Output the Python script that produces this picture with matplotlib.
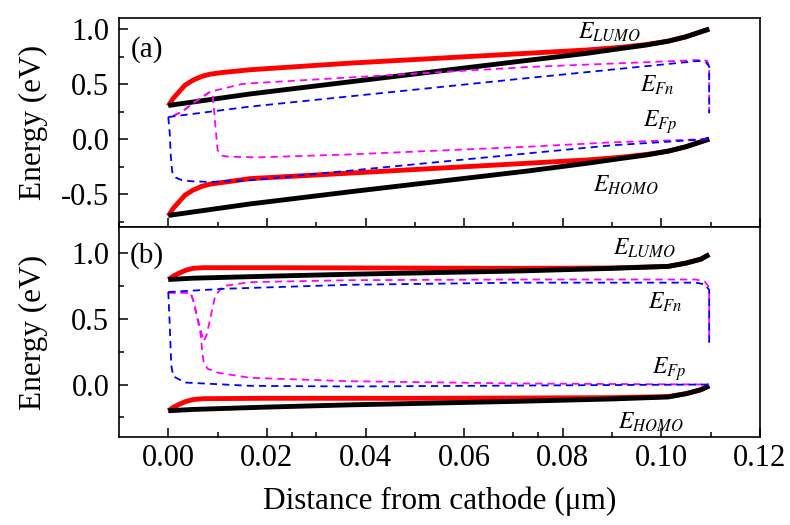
import numpy as np
import matplotlib
matplotlib.use('Agg')
from matplotlib import pyplot as plt
from matplotlib.ticker import MultipleLocator, FixedLocator, FormatStrFormatter

plt.rcParams['font.family'] = ['Liberation Serif', 'DejaVu Serif']
plt.rcParams['mathtext.fontset'] = 'stix'

# ---------- panel (a) ----------
# band edges (solid lines)
xa_black = [0, 0.0166, 0.0368, 0.073, 0.085, 0.0913, 0.097, 0.1014, 0.105, 0.1097]
lumo_a_black = [0.305, 0.41, 0.52, 0.716, 0.78, 0.82, 0.855, 0.89, 0.93, 1.0]
homo_a_black = [-0.695, -0.59, -0.48, -0.29, -0.22, -0.18, -0.145, -0.11, -0.07, 0.0]

xa_red = [0, 0.001, 0.002, 0.0034, 0.005, 0.0068, 0.0085, 0.011, 0.0166, 0.0368,
          0.073, 0.085, 0.092, 0.097, 0.1014, 0.105, 0.1097]
lumo_a_red = [0.30, 0.37, 0.42, 0.49, 0.535, 0.57, 0.59, 0.605, 0.63, 0.69,
              0.78, 0.81, 0.835, 0.86, 0.89, 0.93, 1.0]
homo_a_red = [-0.70, -0.63, -0.58, -0.51, -0.465, -0.43, -0.41, -0.395, -0.36, -0.31,
              -0.22, -0.19, -0.165, -0.14, -0.11, -0.07, 0.0]

# quasi fermi levels (dashed)
xa_fn_blue = [0, 0.0166, 0.073, 0.1075, 0.1090, 0.1097, 0.1097]
fn_a_blue = [0.20, 0.295, 0.555, 0.71, 0.70, 0.66, 0.235]
xa_fp_blue = [0, 0.0003, 0.0005, 0.0008, 0.0015, 0.0028, 0.005, 0.0085, 0.0166, 0.073, 0.09, 0.1097]
fp_a_blue = [0.20, 0.05, -0.15, -0.30, -0.35, -0.375, -0.385, -0.39, -0.375, -0.13, -0.057, 0.0]

xa_fn_mag = [0.001, 0.0028, 0.0055, 0.0085, 0.0149, 0.0179, 0.073, 0.1085, 0.1093, 0.1097, 0.1097]
fn_a_mag = [0.21, 0.25, 0.34, 0.43, 0.50, 0.51, 0.655, 0.72, 0.71, 0.66, 0.235]
xa_fp_mag = [0.001, 0.0028, 0.0055, 0.0085, 0.009, 0.0095, 0.010, 0.0108, 0.012, 0.0179,
             0.0368, 0.073, 0.09, 0.1097]
fp_a_mag = [0.21, 0.25, 0.34, 0.43, 0.40, 0.15, -0.10, -0.15, -0.16, -0.167,
            -0.14, -0.07, -0.03, 0.0]

# ---------- panel (b) ----------
xb_black = [0, 0.005, 0.02, 0.0368, 0.071, 0.09, 0.1014, 0.105, 0.108, 0.1097]
lumo_b_black = [0.80, 0.81, 0.825, 0.84, 0.865, 0.885, 0.90, 0.925, 0.955, 0.99]
homo_b_black = [-0.20, -0.19, -0.172, -0.155, -0.128, -0.11, -0.095, -0.07, -0.04, -0.01]

xb_red = [0, 0.001, 0.002, 0.0035, 0.005, 0.007, 0.02, 0.05, 0.071, 0.09, 0.1014, 0.105, 0.108, 0.1097]
lumo_b_red = [0.80, 0.825, 0.845, 0.87, 0.885, 0.89, 0.89, 0.887, 0.885, 0.888, 0.90, 0.925, 0.955, 0.99]
homo_b_red = [-0.20, -0.175, -0.155, -0.13, -0.115, -0.108, -0.105, -0.105, -0.103, -0.10, -0.092, -0.07, -0.04, -0.01]

xb_fn_blue = [0, 0.0118, 0.0368, 0.071, 0.107, 0.1088, 0.1097, 0.1097]
fn_b_blue = [0.705, 0.73, 0.76, 0.776, 0.776, 0.763, 0.72, 0.32]
xb_fp_blue = [0, 0.0003, 0.0006, 0.001, 0.0034, 0.0166, 0.0368, 0.071, 0.1097]
fp_b_blue = [0.705, 0.45, 0.15, 0.063, 0.015, -0.01, -0.015, -0.008, 0.0]

xb_fn_mag = [0, 0.0045, 0.0051, 0.0065, 0.0072, 0.0078, 0.0095, 0.0111, 0.0166, 0.0368,
             0.071, 0.107, 0.1088, 0.1097, 0.1097]
fn_b_mag = [0.70, 0.70, 0.636, 0.42, 0.33, 0.38, 0.675, 0.75, 0.78, 0.795,
            0.80, 0.80, 0.785, 0.74, 0.32]
xb_fp_mag = [0, 0.0045, 0.0051, 0.0065, 0.0069, 0.0072, 0.008, 0.0102, 0.0166, 0.0368, 0.071, 0.1097]
fp_b_mag = [0.70, 0.70, 0.636, 0.40, 0.25, 0.16, 0.12, 0.089, 0.051, 0.025, 0.008, 0.0]

# label positions (data coords) for each panel
labels_a = [(r'$E_{LUMO}$', 0.0895, 0.97), (r'$E_{Fn}$', 0.0992, 0.485),
            (r'$E_{Fp}$', 0.0998, 0.15), (r'$E_{HOMO}$', 0.0927, -0.42)]
labels_b = [(r'$E_{LUMO}$', 0.0966, 1.04), (r'$E_{Fn}$', 0.1008, 0.625),
            (r'$E_{Fp}$', 0.1016, 0.115), (r'$E_{HOMO}$', 0.0978, -0.29)]

# bottom axis has a couple of odd extra minor ticks
minor_b = [0.01, 0.025, 0.03, 0.05, 0.07, 0.075, 0.09, 0.11]

dash = (0, (4.0, 2.8))

fig = plt.figure(figsize=(7.9, 5.25), dpi=100)
ax1 = fig.add_axes([0.1506, 0.5676, 0.8114, 0.398])
ax2 = fig.add_axes([0.1506, 0.1676, 0.8114, 0.400])


def draw_panel(ax, xr, lr, hr, xk, lk, hk, xfb, fnb, xpb, fpb, xfm, fnm, xpm, fpm):
    ax.plot(xr, lr, color='#ff0000', lw=3.5, solid_capstyle='butt')
    ax.plot(xr, hr, color='#ff0000', lw=3.5, solid_capstyle='butt')
    ax.plot(xk, lk, color='black', lw=3.5, solid_capstyle='butt')
    ax.plot(xk, hk, color='black', lw=3.5, solid_capstyle='butt')
    ax.plot(xfm, fnm, color='#ff00ff', lw=1.3, ls=dash)
    ax.plot(xpm, fpm, color='#ff00ff', lw=1.3, ls=dash)
    ax.plot(xfb, fnb, color='#0000ff', lw=1.3, ls=dash)
    ax.plot(xpb, fpb, color='#0000ff', lw=1.3, ls=dash)


draw_panel(ax1, xa_red, lumo_a_red, homo_a_red, xa_black, lumo_a_black, homo_a_black,
           xa_fn_blue, fn_a_blue, xa_fp_blue, fp_a_blue, xa_fn_mag, fn_a_mag, xa_fp_mag, fp_a_mag)
draw_panel(ax2, xb_red, lumo_b_red, homo_b_red, xb_black, lumo_b_black, homo_b_black,
           xb_fn_blue, fn_b_blue, xb_fp_blue, fp_b_blue, xb_fn_mag, fn_b_mag, xb_fp_mag, fp_b_mag)

for txt, x, y in labels_a:
    ax1.text(x, y, txt, fontsize=17, ha='center', va='center')
for txt, x, y in labels_b:
    ax2.text(x, y, txt, fontsize=17, ha='center', va='center')

ax1.text(0.044, 0.847, '(a)', transform=ax1.transAxes, fontsize=21, ha='center', va='center')
ax2.text(0.044, 0.862, '(b)', transform=ax2.transAxes, fontsize=21, ha='center', va='center')

ax1.set_ylim(-0.8, 1.1)
ax2.set_ylim(-0.4, 1.2)
for ax in (ax1, ax2):
    ax.set_xlim(-0.01, 0.12)
    ax.xaxis.set_major_locator(MultipleLocator(0.02))
    ax.xaxis.set_minor_locator(MultipleLocator(0.01))
    ax.yaxis.set_major_locator(MultipleLocator(0.5))
    ax.yaxis.set_minor_locator(MultipleLocator(0.25))
    ax.tick_params(which='both', direction='in', top=False, right=False, width=1.1,
                   labelsize=22, pad=5)
    ax.tick_params(axis='y', which='both', pad=7)
    ax.tick_params(which='major', length=6.5)
    ax.tick_params(which='minor', length=3.5)
    for s in ax.spines.values():
        s.set_linewidth(1.2)
    ax.set_ylabel('Energy (eV)', fontsize=22.5)
    ax.yaxis.set_major_formatter(FormatStrFormatter('%.1f'))
ax2.xaxis.set_minor_locator(FixedLocator(minor_b))
ax1.tick_params(labelbottom=False)
ax1.yaxis.set_label_coords(-0.11, 0.5)
ax2.yaxis.set_label_coords(-0.11, 0.5)

ax2.xaxis.set_major_formatter(FormatStrFormatter('%.2f'))
ax2.set_xlabel('Distance from cathode (\u03bcm)', fontsize=22.5, labelpad=10)

fig.savefig('out.png', dpi=100)
